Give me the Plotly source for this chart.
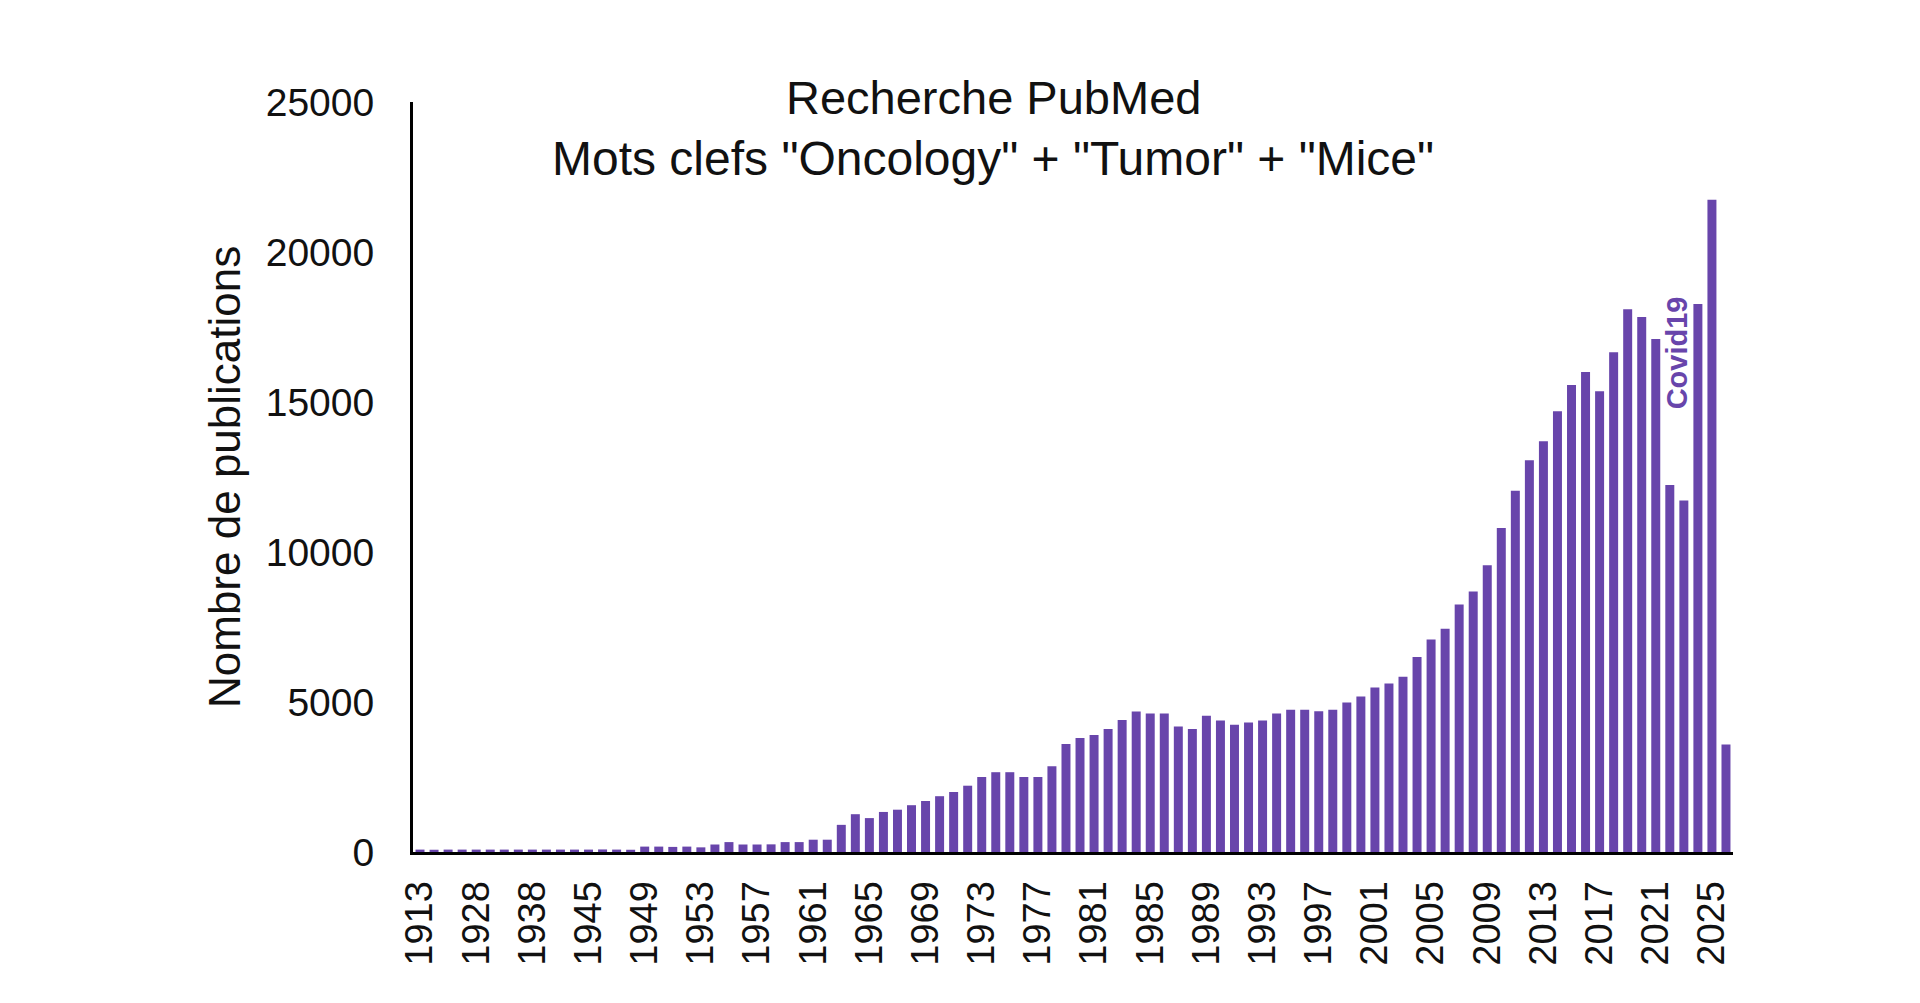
import plotly.graph_objects as go

years = ["1913", "1919", "1922", "1925", "1928", "1930", "1932", "1935", "1938", "1940", "1942", "1944"] + \
        [str(y) for y in range(1945, 2027)]

publications = [
    80, 75, 80, 80, 80, 80, 80, 80, 80, 80, 80, 80,            # 1913-1944
    80, 85, 80, 75, 180, 180, 170, 180, 155, 250,               # 1945-1954
    330, 250, 250, 255, 330, 330, 410, 410, 905, 1260,          # 1955-1964
    1130, 1335, 1410, 1560, 1700, 1860, 2000, 2210, 2500, 2660, # 1965-1974
    2660, 2500, 2500, 2860, 3600, 3800, 3900, 4100, 4400, 4680, # 1975-1984
    4620, 4620, 4180, 4100, 4540, 4380, 4240, 4320, 4380, 4620, # 1985-1994
    4740, 4740, 4690, 4740, 4980, 5180, 5480, 5620, 5840, 6500, # 1995-2004
    7080, 7440, 8250, 8680, 9560, 10800, 12040, 13060, 13690, 14690,  # 2005-2014
    15570, 16000, 15360, 16660, 18090, 17830, 17100, 12230, 11720, 18270,  # 2015-2024
    21740, 3580,                                                # 2025-2026
]

tick_labels = years[::4]
y_ticks = [0, 5000, 10000, 15000, 20000, 25000]

title_line1 = "Recherche PubMed"
title_line2 = 'Mots clefs "Oncology" + "Tumor" + "Mice"'
y_title = "Nombre de publications"
covid_label = "Covid19"
covid_year = "2022"
covid_y = 16650

BAR = "#6845AB"
FONT = "Liberation Sans, Arial, sans-serif"

fig = go.Figure(go.Bar(x=years, y=publications, marker=dict(color=BAR, line=dict(width=0))))

fig.update_layout(
    width=1920, height=1003,
    margin=dict(l=413, r=187, t=102, b=151),
    paper_bgcolor="white", plot_bgcolor="white",
    bargap=0.36,
    showlegend=False,
    font=dict(family=FONT, color="#111111"),
)

fig.update_xaxes(
    type="category",
    categoryorder="array", categoryarray=years,
    tickmode="array", tickvals=tick_labels, ticktext=tick_labels,
    tickangle=-90,
    tickfont=dict(size=38, family=FONT, color="#111111"),
    showline=True, linecolor="black", linewidth=3,
    showgrid=False, ticks="", ticklabelstandoff=11,
    range=[-0.5, len(years) - 0.5],
)

fig.update_yaxes(
    range=[0, 25000],
    tickmode="array", tickvals=y_ticks, ticktext=[str(v) for v in y_ticks],
    tickfont=dict(size=39, family=FONT, color="#111111"),
    showline=True, linecolor="black", linewidth=3,
    showgrid=False, zeroline=False, ticks="", ticklabelstandoff=28,
)

fig.add_annotation(
    text=y_title, xref="paper", yref="paper", x=(224 - 413) / 1320, y=0.5,
    textangle=-90, showarrow=False, xanchor="center", yanchor="middle",
    font=dict(size=44, family=FONT, color="#111111"),
)
fig.add_annotation(
    text=title_line1, xref="paper", yref="paper", x=(993 - 413) / 1320, y=(852 - 98) / 750,
    showarrow=False, xanchor="center", yanchor="middle",
    font=dict(size=47, family=FONT, color="#111111"),
)
fig.add_annotation(
    text=title_line2, xref="paper", yref="paper", x=(993 - 413) / 1320, y=(852 - 159) / 750,
    showarrow=False, xanchor="center", yanchor="middle",
    font=dict(size=48, family=FONT, color="#111111"),
)
fig.add_annotation(
    text="<b>" + covid_label + "</b>", xref="x", yref="y",
    x=years.index(covid_year) + 0.5, y=covid_y,
    textangle=-90, showarrow=False, xanchor="center", yanchor="middle",
    font=dict(size=29, family=FONT, color=BAR),
)

fig.write_html("out.html")
